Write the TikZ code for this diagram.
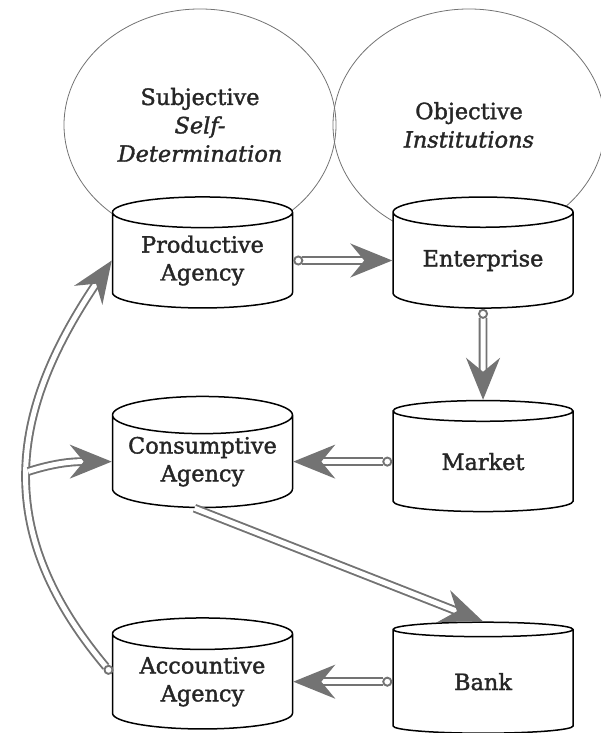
\documentclass[tikz,border=0pt]{standalone}
\usepackage{fontspec}
\setmainfont{DejaVu Serif}[FakeBold=1.6]
\usetikzlibrary{positioning,shapes.geometric,arrows.meta,calc}
\tikzset{>=latex}
\colorlet{flowgray}{black!55}
\colorlet{inkgray}{black!85}
\tikzstyle{store}=[cylinder, shape border rotate=90, aspect=0.25, draw=black, line width=1.5bp,
  fill=white, minimum width=180bp, minimum height=111bp, inner sep=0pt, align=center,
  text=inkgray, font=\fontsize{22.5}{28}\selectfont]
\tikzstyle{realm}=[ellipse, draw=black!55, line width=0.8bp, minimum width=272bp,
  minimum height=232bp, align=center, text=inkgray, font=\fontsize{22.5}{28.5}\selectfont]

\begin{document}
\begin{tikzpicture}[x=1bp, y=1bp,
  node distance=99bp,
  flow/.style={draw=flowgray, line width=1.9bp, double=white, double distance=5bp,
               -{Stealth[length=42bp, width=34bp, inset=14bp]}},
  ring/.style={{Circle[open, length=10bp, width=10bp]}-{Stealth[length=42bp, width=34bp, inset=14bp]}}
]
\useasboundingbox (0,0) rectangle (601,733);

% the two realms
\node[realm] (subj) at (200,608) {Subjective\\ \textit{Self-}\\ \textit{Determination}};
\node[realm] (obj) at (469,608) {Objective\\ \textit{Institutions}};

% agencies on the left, institutions on the right
\node[store] (prod) at (202.5,472.5) {Productive\\Agency};
\node[store, right=of prod] (ent) {Enterprise};
\node[store, below=87bp of prod] (cons) {Consumptive\\Agency};
\node[store, right=of cons] (mkt) {Market};
\node[store, below=109bp of cons] (acc) {Accountive\\Agency};
\node[store, right=of acc] (bank) {Bank};

% flows
\draw[flow, ring] (prod.east) -- (ent.west);
\draw[flow, ring] (ent.south) -- (mkt.north);
\draw[flow, ring] (mkt.west) -- (cons.east);
\draw[flow] ([xshift=-8bp]cons.south) -- (bank.north);
\draw[flow, ring] (bank.west) -- (acc.east);
\draw[flow, ring] ([yshift=8bp]acc.west) to[out=130, in=236, looseness=1.15] coordinate[pos=0.5] (fork) (prod.west);
\draw[flow] (fork) to[out=18, in=180] (cons.west);
\end{tikzpicture}
\end{document}
